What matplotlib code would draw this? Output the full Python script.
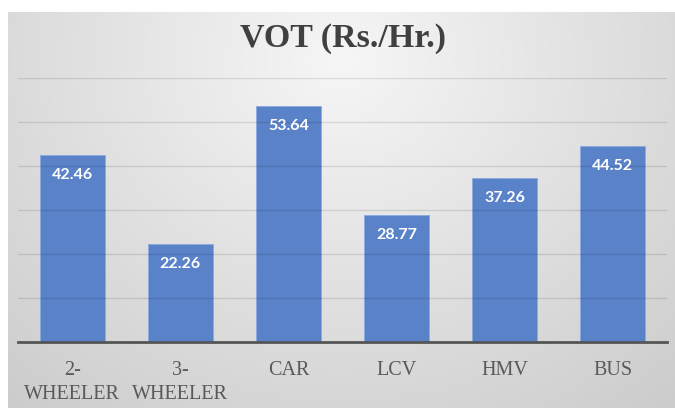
import numpy as np
import matplotlib
matplotlib.use("Agg")
import matplotlib.pyplot as plt

categories = ["2-\nWHEELER", "3-\nWHEELER", "CAR", "LCV", "HMV", "BUS"]
values = [42.46, 22.26, 53.64, 28.77, 37.26, 44.52]
labels = ["42.46", "22.26", "53.64", "28.77", "37.26", "44.52"]
title = "VOT (Rs./Hr.)"

W, H = 675, 408
fig = plt.figure(figsize=(W / 100, H / 100), dpi=100)
fig.patch.set_facecolor("white")

# gradient background panel
bg = fig.add_axes([8 / W, 0, 667 / W, 396 / H])
bg.set_axis_off()
yy, xx = np.mgrid[0:1:200j, 0:1:300j]
r = np.sqrt(((xx - 0.5) / 0.7) ** 2 + ((yy - 0.12) / 1.05) ** 2)
g = 0.965 - 0.15 * np.clip(r, 0, 1.2)
bg.imshow(np.dstack([g, g, g]), aspect="auto", extent=[0, 1, 0, 1], origin="upper")
bg.set_xlim(0, 1)
bg.set_ylim(0, 1)

ax = fig.add_axes([18 / W, 66 / H, 649 / W, 264 / H])
ax.patch.set_alpha(0)
x = np.arange(len(categories))
ax.bar(x, values, width=0.6, color="#5a82c9", edgecolor="#8aaae0", linewidth=0.6, zorder=2)
ax.set_xlim(-0.5, len(categories) - 0.5)
ax.set_ylim(0, 60)
ax.set_yticks(np.arange(10, 61, 10))
ax.yaxis.grid(True, color="black", alpha=0.11, linewidth=1.0, zorder=3)
ax.set_axisbelow(False)
ax.tick_params(axis="y", left=False, labelleft=False)
for s in ["top", "right", "left"]:
    ax.spines[s].set_visible(False)
ax.spines["bottom"].set_color("#555555")
ax.spines["bottom"].set_linewidth(2.0)
ax.spines["bottom"].set_zorder(4)
ax.set_xticks(x)
ax.set_xticklabels(categories, family="Liberation Serif", fontsize=14.5, color="#595959",
                   linespacing=1.3)
ax.tick_params(axis="x", length=0, pad=14)

for xi, v, lab in zip(x, values, labels):
    ax.annotate(lab, (xi, v), xytext=(0, -20), textcoords="offset pixels",
                ha="center", va="center", color="white", fontsize=11.5,
                family="Lato", fontweight="bold", zorder=5)

fig.text(343 / W, 1 - 39 / H, title, ha="center", va="center", family="Liberation Serif",
         fontweight="bold", fontsize=24.5, color="#404040")

fig.savefig("out.png", dpi=100)
